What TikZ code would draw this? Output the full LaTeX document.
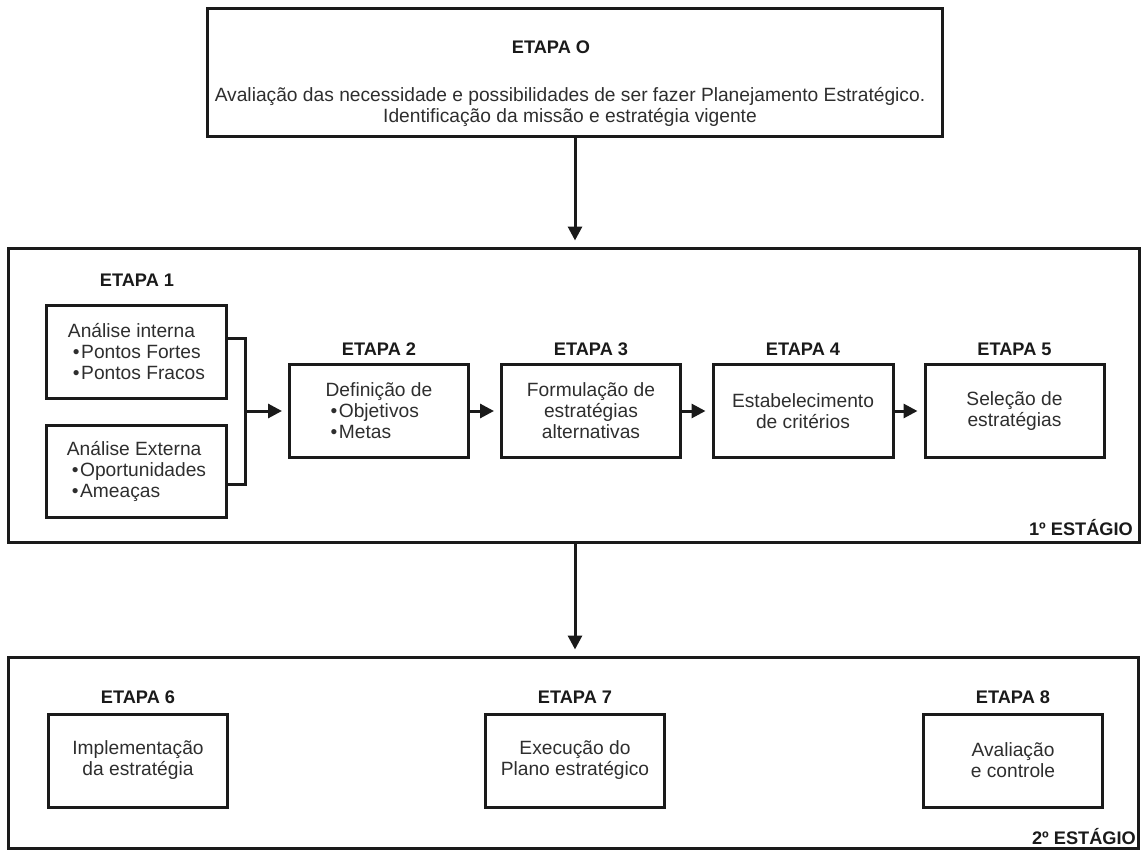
\documentclass[tikz,border=0pt]{standalone}
\usepackage{fontspec}
\setmainfont{Liberation Sans}
\usetikzlibrary{arrows.meta}
\definecolor{ink}{HTML}{1A1A1A}
\definecolor{txt}{HTML}{2E2E2E}
\newcommand\txtfont{\fontsize{19.2bp}{21bp}\selectfont}
\newcommand\hdfont{\fontsize{18.2bp}{20bp}\selectfont\bfseries}
\newcommand\bul{\hspace*{5bp}•\kern1.5bp}
\begin{document}
\begin{tikzpicture}[x=1bp,y=-1bp,
  frame/.style={draw=ink, line width=3bp, inner sep=0pt},
  stepbox/.style={frame, minimum width=179bp, minimum height=93bp,
    align=center, font=\txtfont, text=txt},
  listbox/.style={stepbox, align=left},
  head/.style={font=\hdfont, text=ink, inner sep=0pt},
  body/.style={font=\txtfont, text=txt, align=center, inner sep=0pt},
  wire/.style={draw=ink, line width=3bp},
  arrow/.style={wire, -{Triangle[length=14bp,width=14bp]}, shorten >=6bp}
]
\useasboundingbox (0,0) rectangle (1143,850);

% Etapa 0
\node[frame, minimum width=734bp, minimum height=127bp] (top) at (575,72.5) {};
\node[head] (h0) at (551,47) {ETAPA O};
\node[body] (t0) at (570,106.5) {Avaliação das necessidade e possibilidades de ser fazer Planejamento Estratégico.\\
Identificação da missão e estratégia vigente};

% 1st stage frame
\node[frame, minimum width=1130bp, minimum height=294bp] (st1) at (574,395) {};
\node[head, anchor=east] (lab1) at (1133,528) {1º ESTÁGIO};

% 2nd stage frame
\node[frame, minimum width=1129bp, minimum height=191bp] (st2) at (573.5,752.5) {};
\node[head, anchor=east] (lab2) at (1136,837) {2º ESTÁGIO};

% Etapa 1
\node[head] (h1) at (137,280) {ETAPA 1};
\node[listbox] (int) at (136.5,351.5) {Análise interna\\
\bul Pontos Fortes\\
\bul Pontos Fracos};
\node[listbox, minimum height=92bp] (ext) at (136.5,471) {Análise Externa\\
\bul Oportunidades\\
\bul Ameaças};

% Etapas 2-5
\node[stepbox, align=left] (b2) at (379,411) {Definição de\\
\bul Objetivos\\
\bul Metas};
\node[head] (h2) at (379,349) {ETAPA 2};
\node[stepbox] (b3) at (591,411) {Formulação de\\estratégias\\alternativas};
\node[head] (h3) at (591,349) {ETAPA 3};
\node[stepbox, minimum width=180bp] (b4) at (803,411) {Estabelecimento\\de critérios};
\node[head] (h4) at (803,349) {ETAPA 4};
\node[stepbox] (b5) at (1014.5,411) {Seleção de\\estratégias};
\node[head] (h5) at (1014.5,349) {ETAPA 5};

% Etapas 6-8
\node[stepbox] (b6) at (138,760.5) {Implementação\\da estratégia};
\node[head] (h6) at (138,697) {ETAPA 6};
\node[stepbox] (b7) at (575,760.5) {Execução do\\Plano estratégico};
\node[head] (h7) at (575,697) {ETAPA 7};
\node[stepbox] (b8) at (1013,760.5) {Avaliação\\e controle};
\node[head] (h8) at (1013,697) {ETAPA 8};

% connectors
\coordinate (jn) at (245,411);
\draw[wire] ([yshift=13.5bp]int.east) -| (jn) |- ([yshift=-13bp]ext.east);
\draw[arrow] (jn) -- (b2.west);
\draw[arrow] (b2.east) -- (b3.west);
\draw[arrow] (b3.east) -- (b4.west);
\draw[arrow] (b4.east) -- (b5.west);
\draw[arrow] (top.south) -- (top.south |- st1.north);
\draw[arrow] (top.south |- st1.south) -- (top.south |- st2.north);
\end{tikzpicture}
\end{document}
